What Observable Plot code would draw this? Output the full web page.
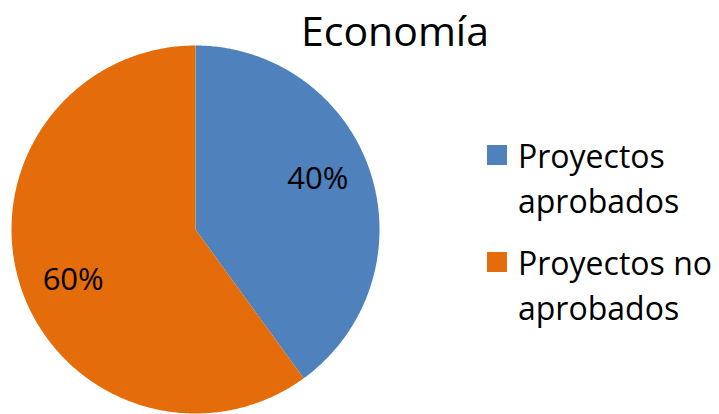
<!DOCTYPE html>
<html>
<head>
<meta charset="utf-8">
<script src="https://cdn.jsdelivr.net/npm/d3@7"></script>
<script src="https://cdn.jsdelivr.net/npm/@observablehq/plot@0.6"></script>
<style>
  html, body { margin: 0; padding: 0; background: #fff; }
  #wrap { position: relative; width: 719px; height: 414px; font-family: "Open Sans", sans-serif; color: #000; }
  #chart { position: absolute; left: 0; top: 0; }
  #title { position: absolute; left: 395px; top: 2px; transform: translateX(-50%); font-size: 41px; white-space: nowrap; }
  .leg { position: absolute; left: 487px; font-size: 32px; line-height: 45px; }
  .sw { position: absolute; left: 0; top: 12px; width: 20px; height: 20px; }
  .lt { position: absolute; left: 31px; top: 0; white-space: nowrap; }
</style>
</head>
<body>
<div id="wrap">
  <div id="chart"></div>
  <div id="title"></div>
  <div id="legend"></div>
</div>
<script>
const title = "Economía";
const categories = ["Proyectos aprobados", "Proyectos no aprobados"];
const legendLines = [["Proyectos", "aprobados"], ["Proyectos no", "aprobados"]];
const values = [40, 60];
const colors = ["#4F81BD", "#E46C0A"];

const data = categories.map((c, i) => ({category: c, value: values[i]}));
const pie = d3.pie().value(d => d.value).sort(null)(data);
const total = d3.sum(values);

// polygon outline for each slice (unit circle, angle clockwise from top)
const pts = [];
pie.forEach(s => {
  const n = Math.max(2, Math.ceil((s.endAngle - s.startAngle) / 0.01));
  pts.push({category: s.data.category, x: 0, y: 0});
  for (let k = 0; k <= n; k++) {
    const a = s.startAngle + (s.endAngle - s.startAngle) * k / n;
    pts.push({category: s.data.category, x: Math.sin(a), y: Math.cos(a)});
  }
  pts.push({category: s.data.category, x: 0, y: 0});
});
const labels = pie.map(s => {
  const a = (s.startAngle + s.endAngle) / 2 - 0.08;
  return {x: 0.72 * Math.sin(a), y: 0.72 * Math.cos(a), text: Math.round(s.data.value / total * 100) + "%"};
});

const plot = Plot.plot({
  width: 719,
  height: 414,
  margin: 0,
  x: {domain: [-1, 1], range: [11, 379], axis: null},
  y: {domain: [-1, 1], range: [413, 45], axis: null},
  color: {domain: categories, range: colors},
  marks: [
    Plot.line(pts, {x: "x", y: "y", z: "category", fill: "category", stroke: null, curve: "linear"}),
    Plot.text(labels, {x: "x", y: "y", text: "text", fontSize: 31, fill: "#000", fontFamily: "Open Sans"})
  ]
});
document.getElementById("chart").appendChild(plot);
document.getElementById("title").textContent = title;

const legend = document.getElementById("legend");
legendLines.forEach((lines, i) => {
  const g = document.createElement("div");
  g.className = "leg";
  g.style.top = (133 + i * 107) + "px";
  const sw = document.createElement("div");
  sw.className = "sw";
  sw.style.background = colors[i];
  g.appendChild(sw);
  const t = document.createElement("div");
  t.className = "lt";
  t.innerHTML = lines.join("<br>");
  g.appendChild(t);
  legend.appendChild(g);
});
</script>
</body>
</html>
